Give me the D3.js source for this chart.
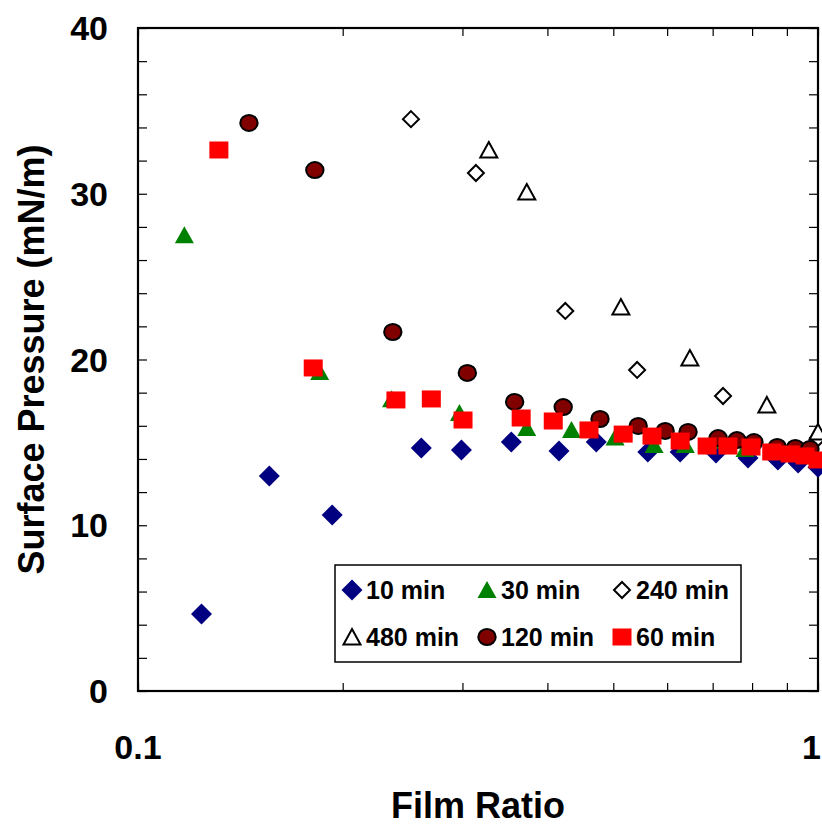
<!DOCTYPE html>
<html>
<head>
<meta charset="utf-8">
<script src="https://cdn.jsdelivr.net/npm/d3@7"></script>
<style>
  body { margin: 0; background: #fff; }
  svg text { font-family: "Liberation Sans", Arial, sans-serif; font-weight: bold; fill: #000; }
</style>
</head>
<body>
<svg id="chart" width="822" height="825"></svg>
<script>
// values: [film ratio, surface pressure]
const min10 = [[0.124, 4.65], [0.156, 12.97], [0.193, 10.62], [0.261, 14.66], [0.299, 14.54],
  [0.354, 15.02], [0.416, 14.48], [0.472, 15.02], [0.562, 14.42], [0.627, 14.42],
  [0.708, 14.36], [0.789, 14.06], [0.873, 13.94], [0.935, 13.76], [1.0, 13.5]]
const min30 = [[0.117, 27.5], [0.185, 19.25], [0.236, 17.6], [0.297, 16.77], [0.373, 15.87],
  [0.434, 15.75], [0.503, 15.3], [0.574, 14.84], [0.638, 14.84], [0.700, 15.1],
  [0.781, 14.6], [0.86, 14.5], [0.93, 14.3], [1.0, 14.0]]
const min240 = [[0.252, 34.5], [0.314, 31.25], [0.425, 22.93], [0.542, 19.37], [0.725, 17.8], [1.0, 15.26]]
const min480 = [[0.328, 32.64], [0.373, 30.1], [0.513, 23.17], [0.648, 20.09], [0.841, 17.26], [1.0, 15.63]]
const min120 = [[0.1456, 34.27], [0.182, 31.43], [0.237, 21.66], [0.305, 19.19], [0.358, 17.44],
  [0.422, 17.13], [0.478, 16.41], [0.544, 15.99], [0.596, 15.69], [0.644, 15.63],
  [0.713, 15.26], [0.760, 15.14], [0.805, 15.02], [0.871, 14.72], [0.926, 14.66], [0.973, 14.6]]
const min60 = [[0.1315, 32.64], [0.181, 19.49], [0.2395, 17.56], [0.270, 17.62], [0.3006, 16.35],
  [0.366, 16.47], [0.408, 16.29], [0.4605, 15.75], [0.517, 15.5], [0.570, 15.38],
  [0.627, 15.08], [0.687, 14.78], [0.737, 14.78], [0.797, 14.72], [0.855, 14.42],
  [0.910, 14.3], [0.957, 14.18], [1.0, 13.94]]

const seriesNames = ["10 min", "30 min", "240 min", "480 min", "120 min", "60 min"]
const seriesData = [min10, min30, min240, min480, min120, min60]
const xTicks = [0.1, 0.2, 0.3, 0.4, 0.5, 0.6, 0.7, 0.8, 0.9, 1]
const xLabels = [0.1, 1]
const yTicks = d3.range(0, 41, 2)
const yLabels = [0, 10, 20, 30, 40]

const margin = {top: 28, right: 4, bottom: 134, left: 138}
const width = 822, height = 825

const svg = d3.select("#chart")

let x = d3.scaleLog().domain([0.1, 1]).range([margin.left, width - margin.right])
let y = d3.scaleLinear().domain([0, 40]).range([height - margin.bottom, margin.top])

// marker drawing per series
const styles = [
  {shape: "diamond", fill: "#000080", stroke: "none"},
  {shape: "triangle", fill: "#008000", stroke: "none"},
  {shape: "diamond-open", fill: "#fff", stroke: "#000"},
  {shape: "triangle-open", fill: "#fff", stroke: "#000"},
  {shape: "circle", fill: "#800000", stroke: "#000"},
  {shape: "square", fill: "#ff0000", stroke: "none"}
]

function drawMarker(g, s) {
    if (s.shape === "diamond") {
        g.append("path").attr("d", "M0,-10.5L10.5,0L0,10.5L-10.5,0Z").attr("fill", s.fill)
    } else if (s.shape === "diamond-open") {
        g.append("path").attr("d", "M0,-8L8,0L0,8L-8,0Z")
            .attr("fill", s.fill).attr("stroke", s.stroke).attr("stroke-width", 2)
    } else if (s.shape === "triangle") {
        g.append("path").attr("d", "M0,-9L9.5,8L-9.5,8Z").attr("fill", s.fill)
    } else if (s.shape === "triangle-open") {
        g.append("path").attr("d", "M0,-8L8.5,7.5L-8.5,7.5Z")
            .attr("fill", s.fill).attr("stroke", s.stroke).attr("stroke-width", 2)
    } else if (s.shape === "circle") {
        g.append("ellipse").attr("rx", 8.7).attr("ry", 8)
            .attr("fill", s.fill).attr("stroke", s.stroke).attr("stroke-width", 2)
    } else if (s.shape === "square") {
        g.append("rect").attr("x", -9.5).attr("y", -8.5).attr("width", 19).attr("height", 17)
            .attr("fill", s.fill)
    }
}

// axes: ticks pointing inward on all four sides
const plotH = y(0), plotW = x(1)

svg.append("g").attr("transform", `translate(0,${plotH})`)
    .call(d3.axisBottom(x).tickValues(xTicks).tickSize(-8).tickPadding(0).tickFormat(""))
    .attr("class", "axis")
svg.append("g").attr("transform", `translate(0,${margin.top})`)
    .call(d3.axisTop(x).tickValues(xTicks).tickSize(-8).tickFormat(""))
    .attr("class", "axis")
svg.append("g").attr("transform", `translate(${margin.left},0)`)
    .call(d3.axisLeft(y).tickValues(yTicks).tickSize(-9).tickFormat(""))
    .attr("class", "axis")
svg.append("g").attr("transform", `translate(${plotW},0)`)
    .call(d3.axisRight(y).tickValues(yTicks).tickSize(-9).tickFormat(""))
    .attr("class", "axis")

svg.selectAll(".axis .domain").remove()
svg.selectAll(".axis line").attr("stroke", "#000").attr("stroke-width", 1.2)

// frame
svg.append("rect")
    .attr("x", margin.left).attr("y", margin.top)
    .attr("width", plotW - margin.left).attr("height", plotH - margin.top)
    .attr("fill", "none").attr("stroke", "#000").attr("stroke-width", 2.2)

// tick labels (the last one is kept inside the page edge)
svg.selectAll(".xlab").data(xLabels).join("text")
    .attr("x", d => d === 1 ? width - 1 : x(d)).attr("y", plotH + 68)
    .attr("text-anchor", d => d === 1 ? "end" : "middle").style("font-size", "34px")
    .text(d => d)
svg.selectAll(".ylab").data(yLabels).join("text")
    .attr("x", margin.left - 30).attr("y", d => y(d)).attr("dy", "0.36em")
    .attr("text-anchor", "end").style("font-size", "34px")
    .text(d => d)

// axis titles
svg.append("text")
    .attr("x", (margin.left + plotW) / 2).attr("y", 818)
    .attr("text-anchor", "middle").style("font-size", "36px")
    .text("Film Ratio")
svg.append("text")
    .attr("transform", `translate(44,${(margin.top + plotH) / 2}) rotate(-90)`)
    .attr("text-anchor", "middle").style("font-size", "36px")
    .text("Surface Pressure (mN/m)")

// points
seriesData.forEach(function(data, i) {
    let s = styles[i]
    svg.append("g").selectAll("g").data(data).join("g")
        .attr("transform", d => `translate(${x(d[0])},${y(d[1])})`)
        .each(function() { drawMarker(d3.select(this), s) })
})

// legend
const legend = svg.append("g")
legend.append("rect")
    .attr("x", 335).attr("y", 565).attr("width", 406).attr("height", 97)
    .attr("fill", "#fff").attr("stroke", "#000").attr("stroke-width", 1.5)

const colX = [352, 487, 622]
const rowY = [590, 637]
seriesNames.forEach(function(name, i) {
    let cx = colX[i % 3], cy = rowY[Math.floor(i / 3)]
    let g = legend.append("g").attr("transform", `translate(${cx},${cy})`)
    drawMarker(g, styles[i])
    legend.append("text")
        .attr("x", cx + 14).attr("y", cy).attr("dy", "0.36em")
        .style("font-size", "25px")
        .text(name)
})
</script>
</body>
</html>
